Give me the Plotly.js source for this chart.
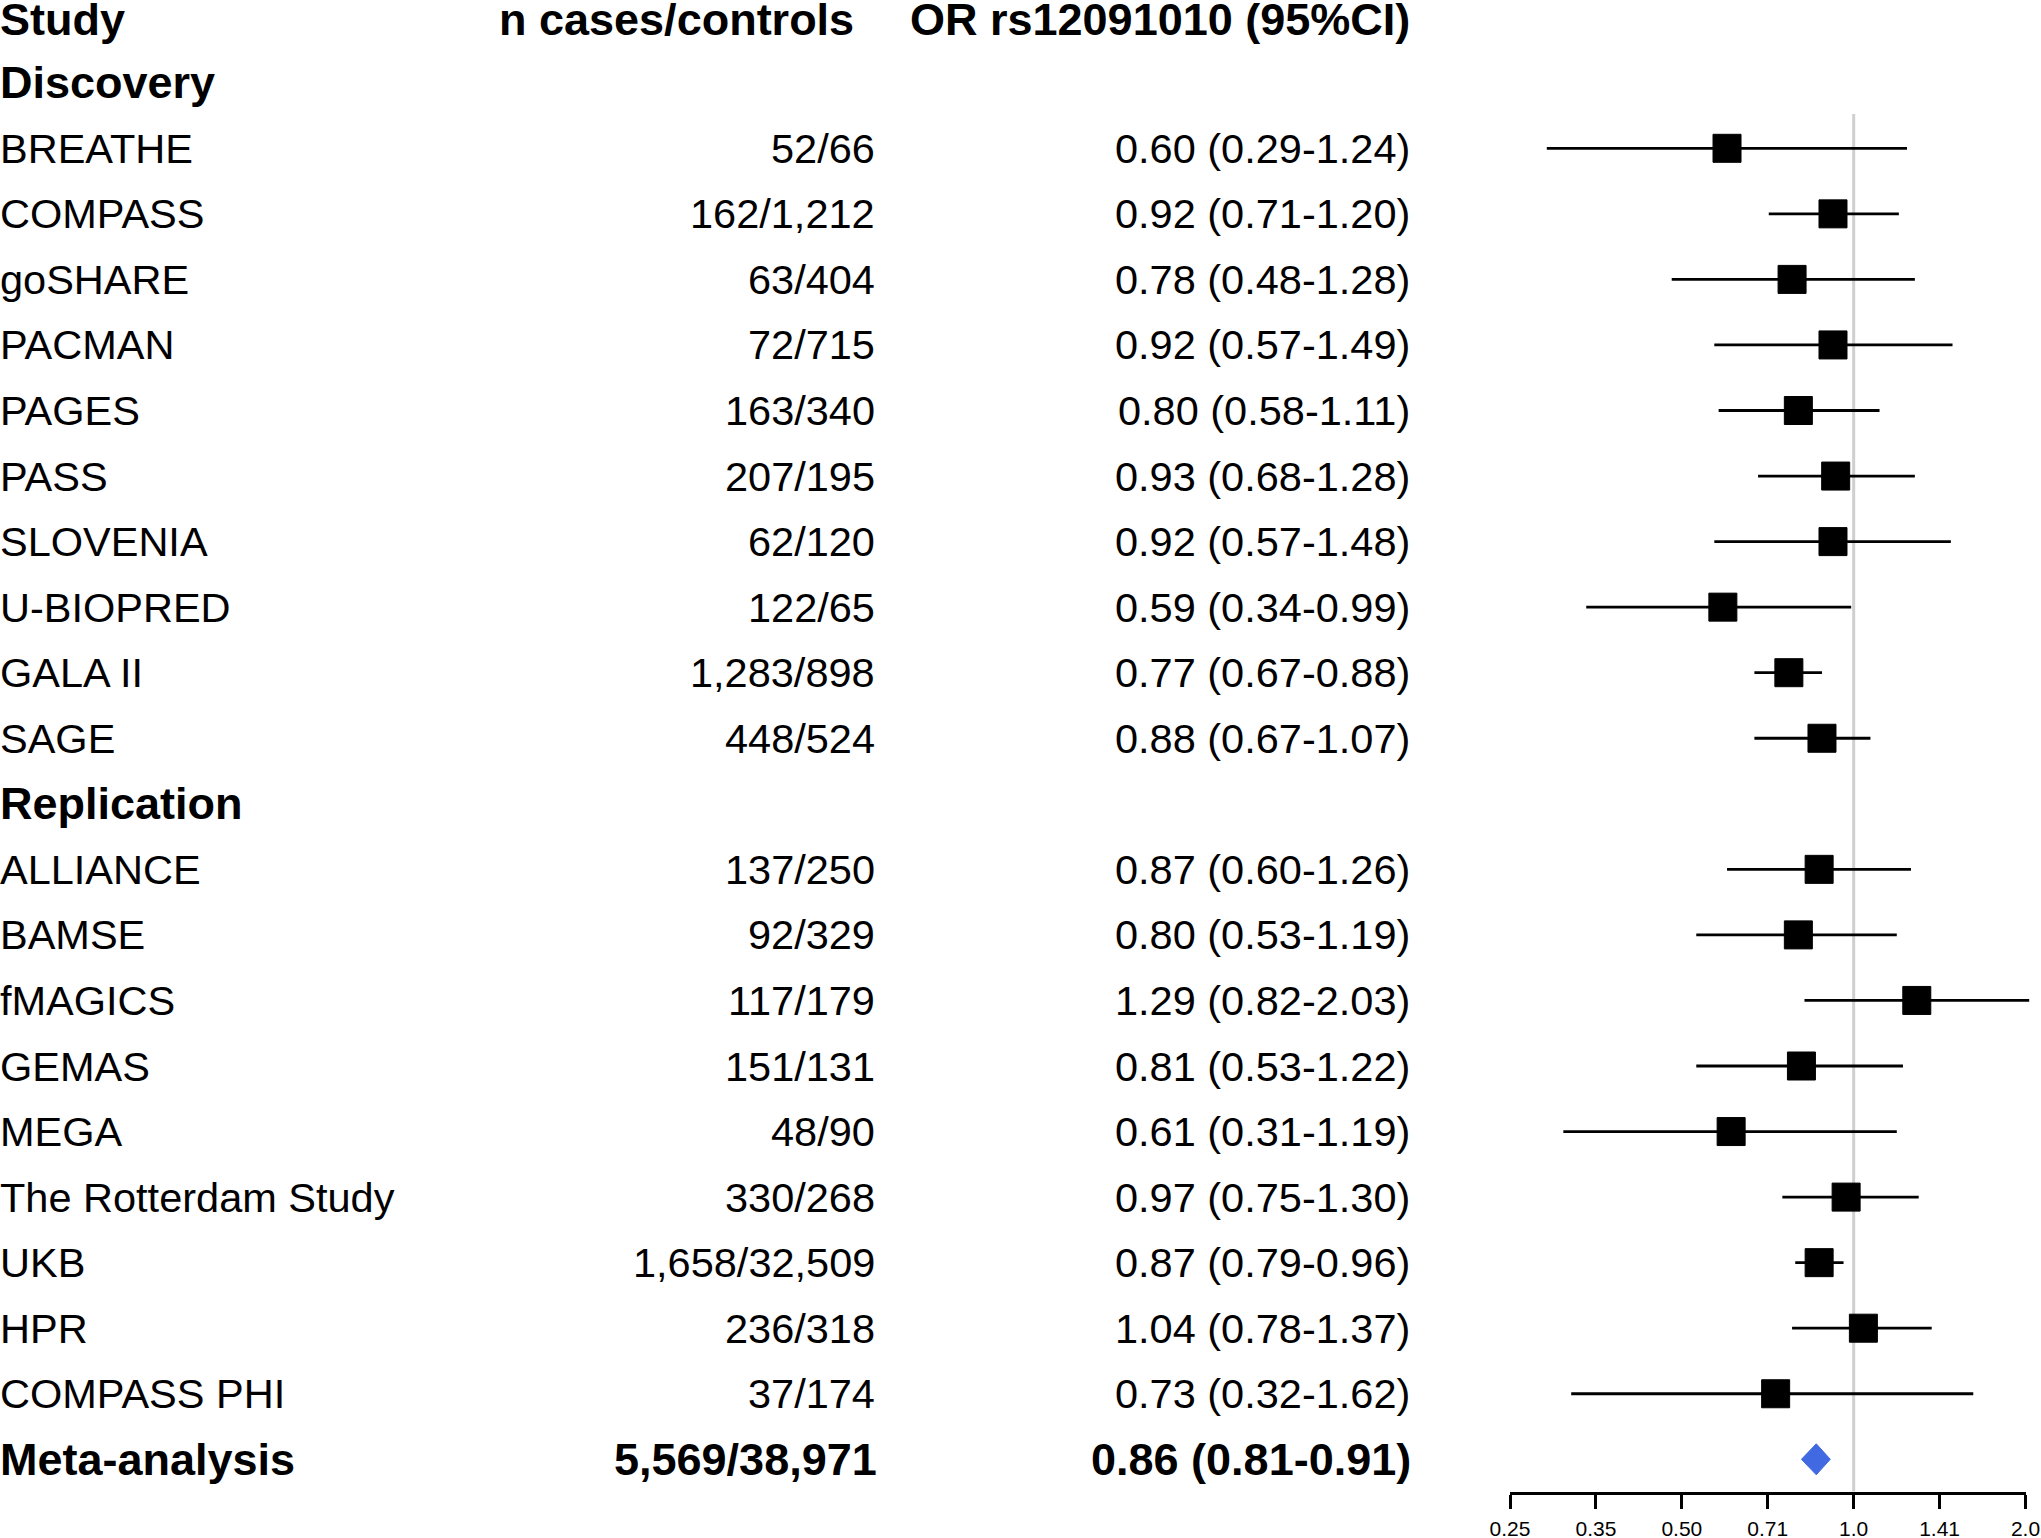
<!DOCTYPE html>
<html>
<head>
<meta charset="utf-8">
<script src="https://cdn.plot.ly/plotly-3.0.1.min.js"></script>
<style>html,body{margin:0;padding:0;background:#fff;}#chart{width:2041px;height:1538px;}</style>
</head>
<body>
<div id="chart"></div>
<script>
// ---------------- data ----------------
const headerCols = ['Study', 'n cases/controls', 'OR rs12091010 (95%CI)'];
const groupLabels = ['Discovery', 'Replication'];

const discStudies = ['BREATHE','COMPASS','goSHARE','PACMAN','PAGES','PASS','SLOVENIA','U-BIOPRED','GALA II','SAGE'];
const discN  = ['52/66','162/1,212','63/404','72/715','163/340','207/195','62/120','122/65','1,283/898','448/524'];
const discOR = [0.60,0.92,0.78,0.92,0.80,0.93,0.92,0.59,0.77,0.88];
const discLo = [0.29,0.71,0.48,0.57,0.58,0.68,0.57,0.34,0.67,0.67];
const discHi = [1.24,1.20,1.28,1.49,1.11,1.28,1.48,0.99,0.88,1.07];

const repStudies = ['ALLIANCE','BAMSE','fMAGICS','GEMAS','MEGA','The Rotterdam Study','UKB','HPR','COMPASS PHI'];
const repN  = ['137/250','92/329','117/179','151/131','48/90','330/268','1,658/32,509','236/318','37/174'];
const repOR = [0.87,0.80,1.29,0.81,0.61,0.97,0.87,1.04,0.73];
const repLo = [0.60,0.53,0.82,0.53,0.31,0.75,0.79,0.78,0.32];
const repHi = [1.26,1.19,2.03,1.22,1.19,1.30,0.96,1.37,1.62];

const metaLabel = 'Meta-analysis';
const metaN  = '5,569/38,971';
const metaOR = 0.86;
const metaLo = 0.81;
const metaHi = 0.91;

const tickVals = [0.25, 0.353553, 0.5, 0.707107, 1, 1.414214, 2];
const tickText = ['0.25','0.35','0.50','0.71','1.0','1.41','2.0'];
const refOR = 1;

// ---------------- layout geometry ----------------
const W = 2041, H = 1538;
const FONT = '"Liberation Sans", Arial, Helvetica, sans-serif';
const REG = 41.5, BOLD = 45;
const row0Px = 17.2, rowStep = 65.55, axisPx = 1491.7;
const axLeftPx = 1510, axRightPx = 2025.5;
const nRightPx = 875, orRightPx = 1410, nHeadRightPx = 854;

const fmt = v => v.toFixed(2);
const orText = (o, l, h) => fmt(o) + ' (' + fmt(l) + '-' + fmt(h) + ')';

// assemble rows
const rows = [];
let k = 1;
rows.push({label: groupLabels[0], k: k++, bold: true});
discStudies.forEach((s, i) => rows.push({label: s, n: discN[i], or: discOR[i], lo: discLo[i], hi: discHi[i], k: k++}));
rows.push({label: groupLabels[1], k: k++, bold: true});
repStudies.forEach((s, i) => rows.push({label: s, n: repN[i], or: repOR[i], lo: repLo[i], hi: repHi[i], k: k++}));
const metaK = k;
const headerK = 0.04;

const studyRows = rows.filter(r => r.or !== undefined);

// axes scale
const d0 = axLeftPx / W, d1 = axRightPx / W;
const lg0 = Math.log10(tickVals[0]), lg1 = Math.log10(tickVals[tickVals.length - 1]);
const pxPerDec = (axRightPx - axLeftPx) / (lg1 - lg0);
const e0 = 0.70, e1 = 1.0;
const x2range = [lg0 - (axLeftPx - e0 * W) / pxPerDec, lg1 + (e1 * W - axRightPx) / pxPerDec];
const yDomBottom = 1 - axisPx / H;
const yRange = [(axisPx - row0Px) / rowStep, -row0Px / rowStep];
const refTopK = (114 - row0Px) / rowStep;
const diaHalf = 15.5 / rowStep;

// ---------------- traces ----------------
const ciX = [], ciY = [];
studyRows.forEach(r => { ciX.push(r.lo, r.hi, null); ciY.push(r.k, r.k, null); });

const traces = [
  { // reference line at OR = 1
    type: 'scatter', mode: 'lines', xaxis: 'x', yaxis: 'y',
    x: [refOR, refOR], y: [refTopK, yRange[0]],
    line: {color: '#cfcfcf', width: 3}, hoverinfo: 'skip', showlegend: false
  },
  { // confidence intervals
    type: 'scatter', mode: 'lines', xaxis: 'x2', yaxis: 'y',
    x: ciX, y: ciY, connectgaps: false,
    line: {color: '#000', width: 2.8}, hoverinfo: 'skip', showlegend: false
  },
  { // point estimates
    type: 'scatter', mode: 'markers', xaxis: 'x2', yaxis: 'y',
    x: studyRows.map(r => r.or), y: studyRows.map(r => r.k),
    marker: {symbol: 'square', size: 28, color: '#000', line: {width: 1, color: '#000'}},
    showlegend: false
  },
  { // meta-analysis diamond
    type: 'scatter', mode: 'lines', xaxis: 'x2', yaxis: 'y', fill: 'toself',
    x: [metaLo, metaOR, metaHi, metaOR, metaLo],
    y: [metaK, metaK - diaHalf, metaK, metaK + diaHalf, metaK],
    fillcolor: '#4169E1', line: {color: '#4169E1', width: 1}, showlegend: false
  }
];

// ---------------- annotations (text columns) ----------------
const ann = [];
function addText(text, xPx, anchor, kk, bold) {
  ann.push({
    text: bold ? '<b>' + text + '</b>' : text,
    x: xPx / W, xref: 'paper', xanchor: anchor,
    y: kk, yref: 'y', yanchor: 'middle',
    showarrow: false, borderpad: 0, borderwidth: 0,
    font: {family: FONT, size: bold ? BOLD : REG, color: '#000'}
  });
}
addText(headerCols[0], 0, 'left', headerK, true);
addText(headerCols[1], nHeadRightPx, 'right', headerK, true);
addText(headerCols[2], orRightPx, 'right', headerK, true);
rows.forEach(r => {
  addText(r.label, 0, 'left', r.k, !!r.bold);
  if (r.or !== undefined) {
    addText(r.n, nRightPx, 'right', r.k, false);
    addText(orText(r.or, r.lo, r.hi), orRightPx, 'right', r.k, false);
  }
});
addText(metaLabel, 0, 'left', metaK, true);
addText(metaN, nRightPx + 2, 'right', metaK, true);
addText(orText(metaOR, metaLo, metaHi), orRightPx + 1, 'right', metaK, true);

const layout = {
  width: W, height: H,
  margin: {l: 0, r: 0, t: 0, b: 0, pad: 0},
  paper_bgcolor: '#fff', plot_bgcolor: 'rgba(0,0,0,0)',
  showlegend: false,
  font: {family: FONT, color: '#000'},
  xaxis: {
    type: 'log', domain: [d0, d1], range: [lg0, lg1], anchor: 'y',
    showline: true, linecolor: '#000', linewidth: 3,
    ticks: 'outside', ticklen: 14, tickwidth: 3, tickcolor: '#000',
    tickmode: 'array', tickvals: tickVals, ticktext: tickText,
    tickfont: {family: FONT, size: 21, color: '#000'},
    ticklabelstandoff: 2,
    showgrid: false, zeroline: false, fixedrange: true
  },
  xaxis2: {
    type: 'log', domain: [e0, e1], range: x2range, anchor: 'y',
    visible: false, showgrid: false, zeroline: false, fixedrange: true
  },
  yaxis: {
    domain: [yDomBottom, 1], range: yRange, autorange: false,
    visible: false, showgrid: false, zeroline: false, fixedrange: true
  },
  annotations: ann
};

Plotly.newPlot('chart', traces, layout, {displayModeBar: false, staticPlot: true});
</script>
</body>
</html>
